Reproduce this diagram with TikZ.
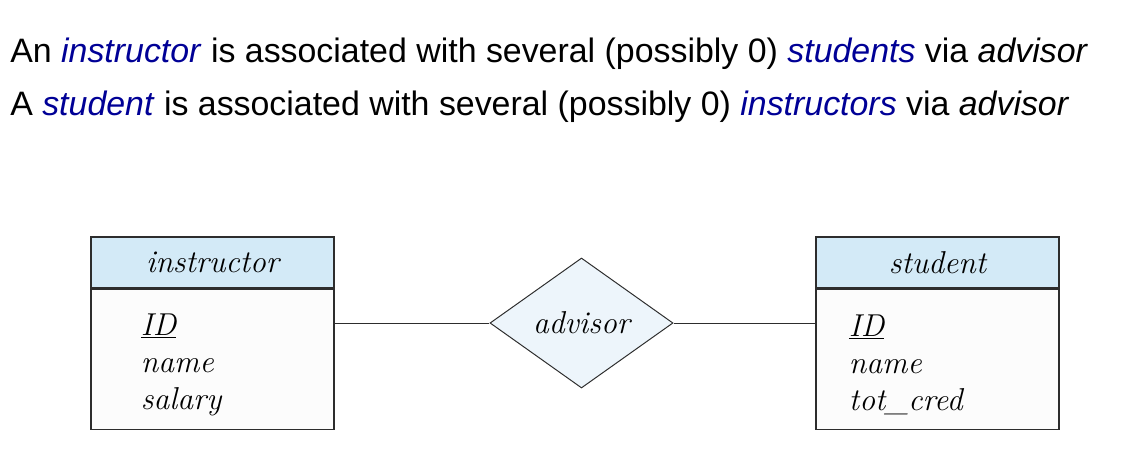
\documentclass[tikz,border=0pt]{standalone}
\usepackage{xcolor}
\usepackage{fontspec}
\usepackage{tikz}
\usetikzlibrary{calc}
\usetikzlibrary{positioning}
\usetikzlibrary{shapes.geometric}
\newfontfamily\slidefont{Liberation Sans}
\definecolor{termblue}{RGB}{0,0,150}
\definecolor{headfill}{RGB}{211,234,247}
\definecolor{relfill}{RGB}{237,245,251}
\definecolor{edgegray}{RGB}{45,45,45}
\tikzset{>=latex}
\tikzstyle{slide} = [draw=none, inner sep = 0, anchor = base west, font = \slidefont\fontsize{24.1}{28}\selectfont]
\tikzstyle{head} = [draw = edgegray, fill = headfill, line width = 0.9pt, minimum width = 6.075cm, minimum height = 1.275cm, inner sep = 0, font = \itshape\fontsize{22.5}{26}\selectfont]
\tikzstyle{body} = [draw = edgegray, fill = white!99!black, line width = 0.9pt, minimum height = 3.5cm, text width = 3.575cm, inner xsep = 1.25cm, inner ysep = 0, align = left, font = \itshape\fontsize{22.5}{26.3}\selectfont]
\tikzstyle{studbody} = [body, text width = 4.425cm, inner xsep = 0.825cm]
\tikzstyle{rel} = [diamond, draw = edgegray, fill = relfill, line width = 0.7pt, minimum width = 4.575cm, minimum height = 3.25cm, inner sep = 0, font = \itshape\fontsize{22.5}{26}\selectfont]
\newcommand{\term}[1]{\textcolor{termblue}{\textit{#1}}}

\begin{document}
\begin{tikzpicture}[x = 0.025cm, y = -0.025cm]
\useasboundingbox (0, 0) rectangle (1130, 468);
\node [slide] (lineA) at (10, 62) {An \term{instructor} is associated with several (possibly 0) \term{students} via \textit{advisor}};
\node [slide] (lineB) at (10, 115) {A \term{student} is associated with several (possibly 0) \term{instructors} via \textit{advisor}};

\node [head] (instr) at (212.5, 262.5) {instructor};
\node [body, below = 0 of instr] (instrBody) {\rule{0pt}{1.05em}\underline{ID}\\name\\salary};
\node [head] (stud) at (937.5, 262.5) {student};
\node [studbody, below = 0 of stud] (studBody) {\rule{0pt}{1.05em}\underline{ID}\\name\\tot\_cred};
\node [rel] (advisor) at (581.5, 323) {advisor};

\draw [-, draw = edgegray, line width = 0.6pt] (advisor.west) to (advisor.west -| instrBody.east);
\draw [-, draw = edgegray, line width = 0.6pt] (advisor.east) to (advisor.east -| studBody.west);
\end{tikzpicture}
\end{document}
